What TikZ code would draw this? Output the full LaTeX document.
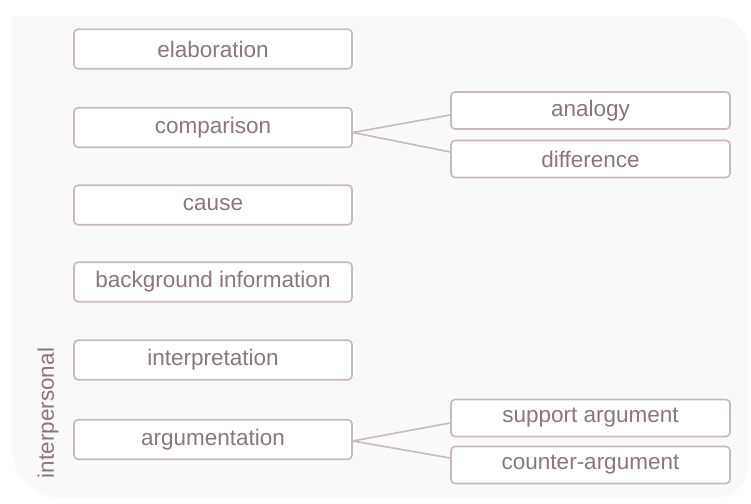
\documentclass[tikz,border=0pt]{standalone}
\usepackage{fontspec}
\setmainfont{Liberation Sans}
\usetikzlibrary{calc}
\definecolor{panel}{HTML}{FAF9F9}
\definecolor{boxline}{HTML}{C9B9BB}
\definecolor{boxtext}{HTML}{8A777B}
\begin{document}
\begin{tikzpicture}[x=1pt,y=-1pt,
  box/.style={draw=boxline, line width=1.6pt, rounded corners=4pt, fill=white,
    text=boxtext, font=\fontsize{22.5}{26}\selectfont, inner sep=0pt,
    minimum width=278pt},
  mainbox/.style={box, minimum height=39.5pt},
  subbox/.style={box, minimum height=37pt, minimum width=279pt},
  link/.style={draw=boxline, line width=1.6pt}]
  \useasboundingbox (0,0) rectangle (751,503);
  % faint background panel: square top-left, rounded elsewhere
  \fill[panel] (12,16) [rounded corners=33pt] -- (748,16) -- (748,498)
    [rounded corners=50pt] -- (12,498) [sharp corners] -- cycle;

  % main categories
  \node[mainbox] (elab)   at (213,49)    {elaboration};
  \node[mainbox] (comp)   at (213,127.5) {comparison};
  \node[mainbox] (cause)  at (213,205)   {cause};
  \node[mainbox] (backg)  at (213,282)   {background information};
  \node[mainbox] (interp) at (213,360)   {interpretation};
  \node[mainbox] (argu)   at (213,439.5) {argumentation};

  % sub-categories
  \node[subbox] (analogy) at (590.5,110.5) {analogy};
  \node[subbox] (diff)    at (590.5,159)   {difference};
  \node[subbox] (support) at (590.5,418)   {support argument};
  \node[subbox] (counter) at (590.5,465)   {counter-argument};

  % side label
  \node[text=boxtext, font=\fontsize{22.5}{26}\selectfont, rotate=90, inner sep=0pt]
    (interpersonal) at (48,413) {interpersonal};

  % connectors
  \draw[link] ($(comp.east)+(0,5)$) -- ($(analogy.west)+(0,4.5)$);
  \draw[link] ($(comp.east)+(0,5)$) -- ($(diff.west)+(0,-7)$);
  \draw[link] ($(argu.east)+(0,1.5)$) -- ($(support.west)+(0,5)$);
  \draw[link] ($(argu.east)+(0,1.5)$) -- ($(counter.west)+(0,-7)$);
\end{tikzpicture}
\end{document}
